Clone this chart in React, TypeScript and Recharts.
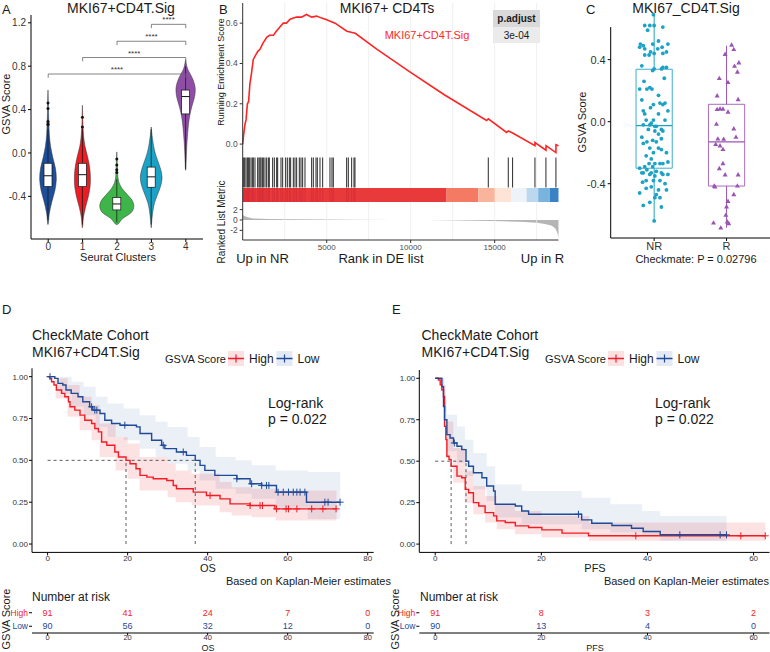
import React from "react";
import {
  ComposedChart,
  LineChart,
  AreaChart,
  ScatterChart,
  Bar,
  Line,
  Area,
  Scatter,
  XAxis,
  YAxis,
  ReferenceLine,
  ReferenceArea,
} from "recharts";

const FONT = '"Liberation Sans", Arial, Helvetica, sans-serif';
const INK = "#1a1a1a";
const TICK = "#333";
const KM_RED = "#f21c25";
const KM_BLUE = "#1f4a98";

// ---------- panel A: violins per Seurat cluster ----------
const clusters = ["0", "1", "2", "3", "4"];
const clusterColors = ["#1c4e9a", "#ec1c24", "#3db549", "#1aa3c6", "#8e4ea6"];
const violinMin = [-0.66, -0.69, -0.66, -0.69, -0.16];
const violinMax = [0.58, 0.44, 0.01, 0.24, 0.86];
// relative width at evenly spaced levels from min to max
const violinWidth = [
  [0, 0.08, 0.22, 0.4, 0.49, 0.44, 0.28, 0.15, 0.08, 0.05, 0.03, 0.015, 0],
  [0, 0.06, 0.18, 0.34, 0.45, 0.47, 0.42, 0.3, 0.15, 0.07, 0.03, 0.015, 0],
  [0, 0.35, 0.85, 1.0, 0.9, 0.6, 0.3, 0.12, 0.06, 0.04, 0.03, 0.015, 0],
  [0, 0.04, 0.1, 0.2, 0.38, 0.56, 0.64, 0.55, 0.38, 0.22, 0.12, 0.05, 0],
  [0, 0.03, 0.05, 0.08, 0.12, 0.17, 0.25, 0.38, 0.53, 0.56, 0.4, 0.12, 0],
];
const boxQ1 = [-0.31, -0.31, -0.525, -0.316, 0.36];
const boxMedian = [-0.21, -0.2, -0.47, -0.22, 0.52];
const boxQ3 = [-0.095, -0.095, -0.41, -0.13, 0.58];
const whiskerLo = [-0.62, -0.66, -0.64, -0.66, -0.15];
const whiskerHi = [0.22, 0.22, -0.24, 0.22, 0.8];
const outliers = [
  [0.46, 0.41, 0.29, 0.27, 0.26],
  [0.33, 0.24],
  [-0.055, -0.11, -0.155, -0.18],
  [],
  [],
];
const bracketFrom = ["0", "1", "2", "3"];
const bracketTo = "4";
const bracketY = [0.728, 0.88, 1.03, 1.186];

// ---------- panel B: GSEA ----------
const esRank = [
  0, 60, 140, 200, 280, 350, 430, 520, 630, 760, 900, 1030, 1200, 1430, 1600, 1830, 2000, 2200,
  2420, 2600, 2820, 3200, 3500, 3800, 4100, 4400, 4700, 5000, 5500, 6200, 6700, 8000, 9950, 12000,
  14520, 14620, 15710, 15810, 16068, 17398, 17400, 18052, 18060, 18645, 18650, 18800,
];
const esScore = [
  0, 0.05, 0.1, 0.12, 0.2, 0.21, 0.3, 0.35, 0.42, 0.44, 0.46, 0.47, 0.5, 0.53, 0.54, 0.54, 0.56, 0.58,
  0.6, 0.6, 0.62, 0.63, 0.63, 0.643, 0.63, 0.635, 0.625, 0.617, 0.6, 0.56, 0.55, 0.47, 0.358, 0.245,
  0.117, 0.125, 0.058, 0.065, 0.055, -0.008, 0.008, -0.03, -0.008, -0.042, -0.003, -0.008,
];
const hitRanks = [
  37, 117, 196, 276, 335, 395, 494, 573, 633, 732, 891, 970, 1030, 1089, 1169, 1228, 1327, 1427,
  1526, 1585, 1784, 1883, 2022, 2081, 2280, 2379, 2557, 2657, 2776, 2855, 3014, 3113, 3212, 3371,
  3470, 3569, 3708, 4105, 4204, 4363, 4442, 4601, 4760, 5196, 5315, 5395, 6188, 6288, 6486, 6625,
  6684, 14620, 15810, 16068, 17398, 18052, 18647,
];
const rankBarStops = [0, 12140, 14020, 15010, 16000, 16900, 17590, 18290, 18800];
const rankBarColors = ["#e8393b", "#f47a63", "#f9b59b", "#fde4d6", "#eef2f9", "#bcd8ee", "#79b4df", "#3a82c4"];
const metricRank = [0, 50, 200, 600, 1500, 3000, 5000, 6500, 9000, 11000, 13000, 14000, 15500, 16500, 17500, 18000, 18400, 18600, 18700, 18780, 18800];
const metricValue = [1.0, 0.85, 0.6, 0.3, 0.2, 0.12, 0.07, 0.04, 0.01, -0.01, -0.08, -0.15, -0.25, -0.35, -0.55, -0.75, -1.1, -1.6, -2.2, -3.0, -3.4];
const rankGrid = [2500, 5000, 7500, 10000, 12500, 15000, 17500];

// ---------- panel C: NR vs R ----------
const responseGroups = ["NR", "R"];
const nrJitter = [
  -0.01, -0.13, -0.06, 0.0, 0.12, -0.09, 0.06, -0.19, -0.15, -0.02, 0.11, 0.19, -0.13, 0.05, -0.05, -0.2,
  0.0, -0.13, -0.07, 0.12, 0.17, -0.17, -0.02, 0.1, 0.12, 0.0, 0.17, -0.14, -0.06, -0.1, -0.03, -0.2,
  0.14, 0.06, 0.12, 0.15, 0.08, -0.17, -0.01, -0.15, -0.05, 0.19, -0.13, 0.06, -0.01, -0.11, 0.15, -0.15,
  -0.06, 0.01, 0.03, -0.04, 0.1, -0.08, 0.01, 0.12, 0.06, -0.17, -0.1, -0.02, 0.03, 0.1, -0.15, -0.06,
  0.06, 0.1, 0.17, -0.01, -0.11, -0.04, -0.07, 0.01, 0.08, 0.12, 0.19, -0.02, -0.2, -0.13, -0.1, -0.04,
  0.03, 0.1, -0.15, -0.06, 0.01, 0.12, -0.17, 0.19, -0.01, 0.08, -0.11, 0.15, -0.16, -0.04, 0.06, 0.03,
  -0.11, 0.17, -0.2, 0.01, 0.08, -0.06, 0.1, -0.15, 0.0,
];
const nrScore = [
  0.69, 0.62, 0.62, 0.62, 0.61, 0.59, 0.52, 0.5, 0.49, 0.5, 0.48, 0.5, 0.47, 0.47, 0.45, 0.48,
  0.44, 0.43, 0.43, 0.44, 0.45, 0.36, 0.33, 0.34, 0.35, 0.34, 0.35, 0.26, 0.22, 0.21, 0.21, 0.21,
  0.28, 0.17, 0.11, 0.12, 0.12, 0.14, 0.11, 0.07, 0.09, 0.07, 0.05, 0.05, 0.01, 0.01, 0.01, -0.02,
  -0.02, -0.03, -0.03, -0.01, -0.05, -0.05, -0.06, -0.06, -0.08, -0.1, -0.13, -0.12, -0.13, -0.11, -0.14, -0.17,
  -0.17, -0.18, -0.2, -0.2, -0.22, -0.24, -0.27, -0.27, -0.27, -0.27, -0.26, -0.29, -0.3, -0.29, -0.31, -0.33,
  -0.32, -0.33, -0.33, -0.34, -0.35, -0.34, -0.33, -0.34, -0.38, -0.38, -0.38, -0.4, -0.39, -0.42, -0.44, -0.47,
  -0.43, -0.44, -0.46, -0.49, -0.49, -0.52, -0.55, -0.54, -0.64,
];
const rJitter = [
  0.07, 0.1, -0.02, 0.17, 0.11, 0.15, -0.1, 0.02, -0.13, 0.16, -0.13, -0.09, -0.05, 0.02, -0.14, 0.1,
  -0.12, 0.13, -0.04, -0.15, -0.09, -0.05, -0.05, -0.1, -0.02, 0.16, -0.17, -0.16, 0.15, 0.1, 0.02, 0.0,
  -0.01, 0.01, 0.03, -0.18, -0.08,
];
const rScore = [
  0.495, 0.467, 0.435, 0.381, 0.359, 0.321, 0.28, 0.254, 0.168, 0.144, 0.08, 0.084, 0.082, 0.063, -0.015, -0.045,
  -0.11, -0.099, -0.112, -0.146, -0.155, -0.178, -0.269, -0.301, -0.342, -0.342, -0.413, -0.42, -0.413, -0.469, -0.512, -0.548,
  -0.602, -0.645, -0.656, -0.652, -0.684,
];
const cQ1 = [-0.3, -0.415];
const cMedian = [-0.026, -0.13];
const cQ3 = [0.338, 0.112];
const cWhiskerLo = [-0.645, -0.684];
const cWhiskerHi = [0.695, 0.49];
const responseColors = ["#1ba2c6", "#9a55b2"];

// ---------- panels D / E: Kaplan-Meier ----------
const osHighTime = [0, 0.6, 1.0, 1.6, 2.2, 3.5, 4.3, 5.2, 5.6, 6.8, 8.1, 9.3, 11.0, 11.8, 12.7, 13.5, 14.8, 16.8, 17.7, 19.6, 20.6, 22.1, 23.1, 24.8, 26.4, 29.8, 31.4, 32.2, 36.4, 39.7, 43.1, 45.6, 50.6, 56.8, 72.2];
const osHighSurv = [1.0, 0.99, 0.97, 0.95, 0.92, 0.9, 0.88, 0.85, 0.82, 0.8, 0.77, 0.74, 0.72, 0.69, 0.67, 0.61, 0.59, 0.55, 0.52, 0.5, 0.48, 0.45, 0.41, 0.4, 0.39, 0.38, 0.35, 0.33, 0.31, 0.29, 0.27, 0.24, 0.23, 0.21, 0.21];
const osHighCensor = [40.6, 50.6, 53.1, 53.7, 57.2, 59.6, 60.2, 62.3, 66.0, 68.8, 72.1];
const osHighBandTime = [0, 2, 5, 8, 11, 13, 17, 20, 23, 30, 32, 36, 43, 46, 51, 57, 72.2];
const osHighBandLo = [1, 0.87, 0.76, 0.68, 0.62, 0.52, 0.44, 0.39, 0.32, 0.28, 0.25, 0.23, 0.19, 0.17, 0.16, 0.14, 0.14];
const osHighBandHi = [1, 0.99, 0.95, 0.88, 0.83, 0.72, 0.64, 0.6, 0.52, 0.48, 0.44, 0.42, 0.37, 0.34, 0.33, 0.32, 0.32];

const osLowTime = [0, 1.8, 2.6, 3.8, 4.6, 5.9, 7.6, 8.8, 10.5, 11.3, 13.1, 14.3, 16.0, 18.1, 22.2, 23.1, 26.0, 28.5, 29.3, 32.2, 34.7, 36.9, 38.1, 39.3, 41.8, 47.3, 50.6, 53.5, 57.2, 64.7, 73.1];
const osLowSurv = [1.0, 0.99, 0.96, 0.95, 0.92, 0.9, 0.88, 0.85, 0.82, 0.8, 0.78, 0.74, 0.72, 0.71, 0.7, 0.66, 0.62, 0.59, 0.57, 0.55, 0.53, 0.5, 0.47, 0.44, 0.41, 0.39, 0.36, 0.35, 0.31, 0.25, 0.25];
const osLowCensor = [0.6, 11.0, 11.8, 12.3, 19.3, 28.9, 33.9, 47.3, 51.0, 53.5, 54.7, 55.3, 57.6, 58.9, 60.2, 61.4, 62.3, 63.1, 64.3, 69.3, 70.1, 73.1];
const osLowBandTime = [0, 3, 6, 9, 12, 15, 19, 23, 27, 30, 35, 38, 42, 47, 51, 57, 65, 73.1];
const osLowBandLo = [1, 0.9, 0.82, 0.77, 0.7, 0.64, 0.62, 0.57, 0.52, 0.48, 0.44, 0.38, 0.33, 0.3, 0.27, 0.22, 0.15, 0.15];
const osLowBandHi = [1, 1.0, 0.97, 0.94, 0.88, 0.84, 0.81, 0.77, 0.73, 0.7, 0.64, 0.58, 0.52, 0.5, 0.47, 0.44, 0.43, 0.43];
const osMedians = [19.6, 36.9];

const pfsHighTime = [0, 0.6, 0.94, 1.25, 1.56, 1.76, 2.0, 2.2, 2.6, 3.0, 4.1, 5.0, 5.65, 6.3, 7.2, 8.2, 9.4, 11.0, 11.6, 13.2, 15.1, 17.6, 20.1, 23.9, 28.9, 62.2];
const pfsHighSurv = [1.0, 0.99, 0.96, 0.93, 0.89, 0.71, 0.63, 0.53, 0.51, 0.47, 0.41, 0.4, 0.33, 0.31, 0.25, 0.23, 0.19, 0.17, 0.14, 0.13, 0.11, 0.1, 0.086, 0.066, 0.05, 0.05];
const pfsHighCensor = [37.8, 57.6, 62.2];
const pfsHighBandTime = [0, 1, 1.6, 2.0, 3.4, 5.6, 7.2, 9.4, 11.6, 15, 20, 29, 62.2];
const pfsHighBandLo = [1, 0.92, 0.8, 0.52, 0.37, 0.25, 0.18, 0.13, 0.09, 0.06, 0.04, 0.02, 0.02];
const pfsHighBandHi = [1, 1.0, 0.96, 0.74, 0.58, 0.44, 0.35, 0.29, 0.24, 0.2, 0.17, 0.13, 0.13];

const pfsLowTime = [0, 1.25, 1.56, 1.76, 2.2, 2.8, 3.45, 4.1, 5.0, 5.8, 6.3, 7.2, 8.8, 9.7, 11.0, 11.3, 15.1, 16.3, 17.6, 27.6, 29.5, 33.3, 37.0, 39.2, 42.4, 54.9];
const pfsLowSurv = [1.0, 0.95, 0.83, 0.75, 0.66, 0.64, 0.61, 0.59, 0.57, 0.5, 0.47, 0.43, 0.4, 0.35, 0.32, 0.24, 0.23, 0.2, 0.18, 0.146, 0.126, 0.112, 0.096, 0.076, 0.056, 0.056];
const pfsLowCensor = [3.6, 27.0, 46.1, 53.7, 54.9];
const pfsLowBandTime = [0, 1.3, 1.8, 2.2, 4.1, 5.6, 7.2, 9.7, 11.3, 16.3, 27.6, 33, 39, 42.4, 54.9];
const pfsLowBandLo = [1, 0.88, 0.65, 0.56, 0.49, 0.41, 0.33, 0.26, 0.16, 0.12, 0.09, 0.07, 0.05, 0.02, 0.02];
const pfsLowBandHi = [1, 1.0, 0.87, 0.78, 0.71, 0.63, 0.55, 0.47, 0.36, 0.32, 0.28, 0.24, 0.2, 0.17, 0.17];
const pfsMedians = [3.0, 5.8];

const osRiskTimes = [0, 20, 40, 60, 80];
const osRiskHigh = [91, 41, 24, 7, 0];
const osRiskLow = [90, 56, 32, 12, 0];
const pfsRiskTimes = [0, 20, 40, 60];
const pfsRiskHigh = [91, 8, 3, 2];
const pfsRiskLow = [90, 13, 4, 0];

const at = (left: number, top: number): React.CSSProperties => ({ position: "absolute", left, top });

function smoothPath(pts: number[][]) {
  let d = `M${pts[0][0]},${pts[0][1]}`;
  for (let i = 0; i < pts.length - 1; i++) {
    const p0 = pts[i - 1] || pts[i];
    const p1 = pts[i];
    const p2 = pts[i + 1];
    const p3 = pts[i + 2] || p2;
    const c1x = p1[0] + (p2[0] - p0[0]) / 6;
    const c1y = p1[1] + (p2[1] - p0[1]) / 6;
    const c2x = p2[0] - (p3[0] - p1[0]) / 6;
    const c2y = p2[1] - (p3[1] - p1[1]) / 6;
    d += ` C${c1x},${c1y} ${c2x},${c2y} ${p2[0]},${p2[1]}`;
  }
  return d + " Z";
}

// violin + box + whiskers + outliers, mapped from the bar's [min, max] pixel span
const ViolinShape = (props: any) => {
  const { x, y, width, height, payload } = props;
  const i = payload.i;
  const lo = violinMin[i];
  const hi = violinMax[i];
  const toY = (v: number) => y + ((hi - v) / (hi - lo)) * height;
  const cx = x + width / 2;
  const dens = violinWidth[i];
  const n = dens.length;
  const pts: number[][] = [];
  for (let k = n - 1; k >= 0; k--) pts.push([cx + (dens[k] * width) / 2, toY(lo + (k / (n - 1)) * (hi - lo))]);
  for (let k = 1; k < n; k++) pts.push([cx - (dens[k] * width) / 2, toY(lo + (k / (n - 1)) * (hi - lo))]);
  const bw = 4;
  return (
    <g>
      <path d={smoothPath(pts)} fill={clusterColors[i]} stroke="#333" strokeWidth={0.5} />
      <line x1={cx} x2={cx} y1={toY(whiskerHi[i])} y2={toY(whiskerLo[i])} stroke="#111" strokeWidth={0.7} />
      <rect x={cx - bw} width={bw * 2} y={toY(boxQ3[i])} height={toY(boxQ1[i]) - toY(boxQ3[i])} fill="#fff" stroke="#111" strokeWidth={0.7} />
      <line x1={cx - bw} x2={cx + bw} y1={toY(boxMedian[i])} y2={toY(boxMedian[i])} stroke="#111" strokeWidth={1} />
      {outliers[i].map((v, k) => (
        <circle key={k} cx={cx} cy={toY(v)} r={1.5} fill="#111" />
      ))}
    </g>
  );
};

function PanelA() {
  const data = clusters.map((c, i) => ({ cluster: c, i, range: [violinMin[i], violinMax[i]] }));
  const tip = 0.035;
  return (
    <div style={at(0, 0)}>
      <ComposedChart width={210} height={265} data={data} margin={{ top: 15, right: 7, bottom: 0, left: 0 }} barCategoryGap={0}>
        <XAxis dataKey="cluster" height={26} tickSize={3} tickMargin={1} stroke="#000" tick={{ fontSize: 10, fill: TICK }} />
        <YAxis type="number" domain={[-0.793, 1.272]} ticks={[-0.4, 0, 0.4, 0.8, 1.2]} interval={0} width={31} tickSize={3} tickMargin={2} stroke="#000" tick={{ fontSize: 10, fill: TICK }} tickFormatter={(v: number) => v.toFixed(1)} />
        <Bar dataKey="range" shape={ViolinShape} isAnimationActive={false} />
        {bracketFrom.map((from, k) => (
          <React.Fragment key={k}>
            <ReferenceLine segment={[{ x: from, y: bracketY[k] }, { x: bracketTo, y: bracketY[k] }]} stroke="#666" strokeWidth={0.8} label={{ value: "****", position: "top", fontSize: 8, fill: "#333", offset: 2 }} />
            <ReferenceLine segment={[{ x: from, y: bracketY[k] }, { x: from, y: bracketY[k] - tip }]} stroke="#666" strokeWidth={0.8} />
            <ReferenceLine segment={[{ x: bracketTo, y: bracketY[k] }, { x: bracketTo, y: bracketY[k] - tip }]} stroke="#666" strokeWidth={0.8} />
          </React.Fragment>
        ))}
      </ComposedChart>
    </div>
  );
}

const HitTick = (p: any) => <line x1={p.cx} x2={p.cx} y1={p.cy - 15} y2={p.cy + 15} stroke="#111" strokeWidth={0.9} />;
const Nothing = () => <g />;

function PanelB() {
  const es = esRank.map((r, i) => ({ rank: r, es: esScore[i] }));
  const metric = metricRank.map((r, i) => ({ rank: r, m: metricValue[i] }));
  const hits = hitRanks.map((r) => ({ rank: r, y: 0.5 }));
  const W = 360;
  const yw = 42.7;
  const mr = 1.5;
  const grid = (key: string) =>
    rankGrid.map((g) => <ReferenceLine key={key + g} x={g} stroke="#ececec" strokeWidth={0.8} />);
  return (
    <>
      <div style={at(200, 0)}>
        <LineChart width={W} height={157} data={es} margin={{ top: 3, right: mr, bottom: 0, left: 0 }}>
          <XAxis type="number" dataKey="rank" domain={[0, 18800]} hide />
          <YAxis type="number" domain={[-0.064, 0.7]} ticks={[0, 0.2, 0.4, 0.6]} interval={0} width={yw} tickSize={3} tickMargin={2} stroke="#333" tick={{ fontSize: 8.5, fill: "#4d4d4d" }} tickFormatter={(v: number) => v.toFixed(1)} />
          {grid("es")}
          <Line dataKey="es" type="linear" stroke="#ff2424" strokeWidth={1.6} dot={false} isAnimationActive={false} />
        </LineChart>
      </div>
      <div style={at(200, 157)}>
        <ComposedChart width={W} height={31} margin={{ top: 0, right: mr, bottom: 0, left: 0 }}>
          <XAxis type="number" dataKey="rank" domain={[0, 18800]} hide />
          <YAxis type="number" domain={[0, 1]} width={yw} tick={false} tickLine={false} stroke="#333" />
          {grid("hit")}
          <Scatter data={hits} dataKey="y" shape={HitTick} isAnimationActive={false} />
        </ComposedChart>
      </div>
      <div style={at(200, 188)}>
        <ComposedChart width={W} height={14} margin={{ top: 0, right: mr, bottom: 0, left: 0 }}>
          <XAxis type="number" dataKey="rank" domain={[0, 18800]} hide />
          <YAxis type="number" domain={[0, 1]} width={yw} tick={false} tickLine={false} stroke="#333" />
          {rankBarColors.map((c, k) => (
            <ReferenceArea key={k} x1={rankBarStops[k]} x2={rankBarStops[k + 1]} y1={0} y2={1} fill={c} fillOpacity={1} stroke="none" />
          ))}
          {hitRanks
            .filter((r) => r < rankBarStops[1])
            .map((r) => (
              <ReferenceLine key={r} x={r} stroke="#b2182b" strokeOpacity={0.3} strokeWidth={0.9} />
            ))}
          <Scatter data={hits} dataKey="y" shape={Nothing} isAnimationActive={false} />
        </ComposedChart>
      </div>
      <div style={at(200, 202)}>
        <AreaChart width={W} height={56} data={metric} margin={{ top: 0, right: mr, bottom: 0, left: 0 }}>
          <XAxis type="number" dataKey="rank" domain={[0, 18800]} ticks={[5000, 10000, 15000]} height={18} tickSize={3} tickMargin={1} stroke="#333" tick={{ fontSize: 8, fill: "#4d4d4d" }} />
          <YAxis type="number" domain={[-3.85, 3.46]} ticks={[-2, 0, 2]} interval={0} width={yw} tickSize={3} tickMargin={2} stroke="#333" tick={{ fontSize: 8.5, fill: "#4d4d4d" }} />
          {grid("m")}
          <Area dataKey="m" type="linear" stroke="none" fill="#b5b5b5" fillOpacity={1} isAnimationActive={false} />
        </AreaChart>
      </div>
    </>
  );
}

const NrDot = (p: any) => <circle cx={p.cx} cy={p.cy} r={1.9} fill={responseColors[0]} />;
const RTri = (p: any) => (
  <path d={`M${p.cx},${p.cy - 2.6} L${p.cx + 2.5},${p.cy + 1.8} L${p.cx - 2.5},${p.cy + 1.8} Z`} fill={responseColors[1]} />
);

function PanelC() {
  const nr = nrScore.map((v, i) => ({ x: 1 + nrJitter[i], y: v }));
  const r = rScore.map((v, i) => ({ x: 2 + rJitter[i], y: v }));
  const half = 0.25;
  return (
    <div style={at(570, 0)}>
      <ComposedChart width={200} height={258} margin={{ top: 10, right: 0, bottom: 0, left: 0 }}>
        <XAxis type="number" dataKey="x" domain={[0.4, 2.6]} ticks={[1, 2]} tickFormatter={(v: number) => responseGroups[v - 1]} height={20} tickSize={3} tickMargin={1} stroke="#000" tick={{ fontSize: 11, fill: TICK }} />
        <YAxis type="number" domain={[-0.75, 0.72]} ticks={[-0.4, 0, 0.4]} interval={0} width={40.7} axisLine={false} tickSize={3} tickMargin={2} stroke="#000" tick={{ fontSize: 11, fill: TICK }} tickFormatter={(v: number) => v.toFixed(1)} />
        <ReferenceLine segment={[{ x: 0.4, y: -0.75 }, { x: 0.4, y: 0.61 }]} stroke="#000" strokeWidth={1} />
        {responseGroups.map((g, k) => (
          <React.Fragment key={g}>
            <ReferenceLine segment={[{ x: k + 1, y: cQ3[k] }, { x: k + 1, y: cWhiskerHi[k] }]} stroke={responseColors[k]} strokeWidth={1} />
            <ReferenceLine segment={[{ x: k + 1, y: cQ1[k] }, { x: k + 1, y: cWhiskerLo[k] }]} stroke={responseColors[k]} strokeWidth={1} />
            <ReferenceArea x1={k + 1 - half} x2={k + 1 + half} y1={cQ1[k]} y2={cQ3[k]} fill="#fff" fillOpacity={0} stroke={responseColors[k]} strokeOpacity={0.85} strokeWidth={1} />
            <ReferenceLine segment={[{ x: k + 1 - half, y: cMedian[k] }, { x: k + 1 + half, y: cMedian[k] }]} stroke={responseColors[k]} strokeWidth={1.3} />
          </React.Fragment>
        ))}
        <Scatter data={nr} dataKey="y" shape={NrDot} isAnimationActive={false} />
        <Scatter data={r} dataKey="y" shape={RTri} isAnimationActive={false} />
      </ComposedChart>
    </div>
  );
}

const plusShape = (color: string) => (p: any) => (
  <g stroke={color} strokeWidth={1}>
    <line x1={p.cx - 3.5} x2={p.cx + 3.5} y1={p.cy} y2={p.cy} />
    <line x1={p.cx} x2={p.cx} y1={p.cy - 3.5} y2={p.cy + 3.5} />
  </g>
);

function stepAt(times: number[], surv: number[], t: number) {
  let s = surv[0];
  for (let i = 0; i < times.length; i++) if (times[i] <= t) s = surv[i];
  return s;
}

type Arm = { time: number[]; surv: number[]; censor: number[]; bandTime: number[]; bandLo: number[]; bandHi: number[] };

function KmPanel(props: { left: number; yw: number; top: number; right: number; xDomain: number[]; xTicks: number[]; high: Arm; low: Arm; medians: number[] }) {
  const { left, yw, top, right, xDomain, xTicks, high, low, medians } = props;
  const arms = [
    { arm: high, color: KM_RED, bandOpacity: 0.13 },
    { arm: low, color: KM_BLUE, bandOpacity: 0.09 },
  ];
  const mMax = Math.max(...medians);
  // plot bottom sits at page y 552.4
  const axisH = 360 + 215 - 552.4;
  return (
    <div style={at(left, 360)}>
      <ComposedChart width={380} height={215} margin={{ top, right, bottom: 0, left: 0 }}>
        <XAxis type="number" dataKey="t" domain={xDomain} ticks={xTicks} interval={0} height={axisH} tickSize={3} tickMargin={0} stroke="#000" tick={{ fontSize: 8, fill: TICK }} allowDataOverflow />
        <YAxis type="number" domain={[-0.05, 1.05]} ticks={[0, 0.25, 0.5, 0.75, 1]} interval={0} width={yw} tickSize={3} tickMargin={1} stroke="#000" tick={{ fontSize: 8, fill: TICK }} tickFormatter={(v: number) => v.toFixed(2)} />
        {arms.map(({ arm, color, bandOpacity }, k) => (
          <Area key={"b" + k} data={arm.bandTime.map((t, i) => ({ t, band: [arm.bandLo[i], arm.bandHi[i]] }))} dataKey="band" type="stepAfter" stroke="none" fill={color} fillOpacity={bandOpacity} isAnimationActive={false} />
        ))}
        <ReferenceLine segment={[{ x: 0, y: 0.5 }, { x: mMax, y: 0.5 }]} stroke="#333" strokeDasharray="3 3" strokeWidth={0.8} />
        {medians.map((m) => (
          <ReferenceLine key={m} segment={[{ x: m, y: 0 }, { x: m, y: 0.5 }]} stroke="#333" strokeDasharray="3 3" strokeWidth={0.8} />
        ))}
        {arms.map(({ arm, color }, k) => (
          <Line key={"l" + k} data={arm.time.map((t, i) => ({ t, s: arm.surv[i] }))} dataKey="s" type="stepAfter" stroke={color} strokeWidth={1.4} dot={false} isAnimationActive={false} />
        ))}
        {arms.map(({ arm, color }, k) => (
          <Scatter key={"c" + k} data={arm.censor.map((t) => ({ t, s: stepAt(arm.time, arm.surv, t) }))} dataKey="s" shape={plusShape(color)} isAnimationActive={false} />
        ))}
      </ComposedChart>
    </div>
  );
}

const RiskTick = (p: any) => (
  <text x={p.x} y={p.y} textAnchor="end" dominantBaseline="central" fontSize={8.5} fill={p.payload.value === "High" ? KM_RED : KM_BLUE}>
    {p.payload.value}
  </text>
);
const RiskCell = (p: any) => (
  <text x={p.cx} y={p.cy} textAnchor="middle" dominantBaseline="central" fontSize={9} fill={p.payload.group === "High" ? KM_RED : KM_BLUE}>
    {p.payload.n}
  </text>
);

function RiskTable(props: { left: number; yw: number; right: number; xDomain: number[]; xTicks: number[]; times: number[]; high: number[]; low: number[] }) {
  const { left, yw, right, xDomain, xTicks, times, high, low } = props;
  const rows = [
    ...times.map((t, i) => ({ t, group: "High", n: high[i] })),
    ...times.map((t, i) => ({ t, group: "Low", n: low[i] })),
  ];
  return (
    <div style={at(left, 600)}>
      <ScatterChart width={380} height={52} margin={{ top: 6, right, bottom: 0, left: 0 }}>
        <XAxis type="number" dataKey="t" domain={xDomain} ticks={xTicks} interval={0} height={19} tickSize={2.5} tickMargin={-1} stroke="#000" tick={{ fontSize: 7.5, fill: TICK }} />
        <YAxis type="category" dataKey="group" allowDuplicatedCategory={false} reversed interval={0} width={yw} axisLine={false} tickSize={3} tickMargin={1} stroke="#000" tick={RiskTick} />
        <Scatter data={rows} shape={RiskCell} isAnimationActive={false} />
      </ScatterChart>
    </div>
  );
}

function T(p: { x: number; y: number; size: number; anchor?: string; rotate?: boolean; bold?: boolean; fill?: string; children: React.ReactNode }) {
  return (
    <text
      x={p.x}
      y={p.y}
      fontSize={p.size}
      textAnchor={(p.anchor || "start") as any}
      dominantBaseline="central"
      fontWeight={p.bold ? "bold" : "normal"}
      fill={p.fill || INK}
      transform={p.rotate ? `rotate(-90 ${p.x} ${p.y})` : undefined}
    >
      {p.children}
    </text>
  );
}

function KmLegend({ x0, y }: { x0: number; y: number }) {
  const keys = [
    { label: "High", color: KM_RED, bg: "#fde1e2", x: x0 + 63 },
    { label: "Low", color: KM_BLUE, bg: "#e4e9f3", x: x0 + 111.5 },
  ];
  return (
    <g>
      <T x={x0} y={y} size={11}>GSVA Score</T>
      {keys.map((k) => (
        <g key={k.label}>
          <rect x={k.x} y={y - 7.5} width={16} height={15} fill={k.bg} />
          <line x1={k.x} x2={k.x + 16} y1={y} y2={y} stroke={k.color} strokeWidth={1.5} />
          <line x1={k.x + 8} x2={k.x + 8} y1={y - 4} y2={y + 4} stroke={k.color} strokeWidth={1.2} />
          <T x={k.x + 21} y={y} size={12}>{k.label}</T>
        </g>
      ))}
    </g>
  );
}

function Overlay() {
  return (
    <svg width={770} height={652} style={{ position: "absolute", left: 0, top: 0, pointerEvents: "none", fontFamily: FONT }}>
      {/* A */}
      <T x={2} y={9} size={13}>A</T>
      <T x={121} y={7.5} size={14} anchor="middle">MKI67+CD4T.Sig</T>
      <T x={6} y={104} size={11} anchor="middle" rotate>GSVA Score</T>
      <T x={118} y={257} size={11} anchor="middle">Seurat Clusters</T>
      {/* B */}
      <T x={219} y={9} size={13}>B</T>
      <T x={387} y={7.5} size={14} anchor="middle">MKI67+ CD4Ts</T>
      <T x={221} y={72} size={9} anchor="middle" rotate>Running Enrichment Score</T>
      <T x={221} y={222} size={10} anchor="middle" rotate>Ranked List Metric</T>
      <rect x={493} y={10} width={47} height={17} fill="#d9d9d9" />
      <rect x={493} y={27} width={47} height={16} fill="#ebebeb" />
      <T x={516.5} y={18.5} size={10} anchor="middle" bold>p.adjust</T>
      <T x={516.5} y={35} size={10} anchor="middle">3e-04</T>
      <T x={427} y={35} size={11} anchor="middle" fill="#ff2a2a">MKI67+CD4T.Sig</T>
      <T x={262.5} y={258} size={13} anchor="middle">Up in NR</T>
      <T x={381} y={258} size={13} anchor="middle">Rank in DE list</T>
      <T x={542.5} y={258} size={13} anchor="middle">Up in R</T>
      {/* C */}
      <T x={586} y={9} size={13}>C</T>
      <T x={686} y={7.5} size={14} anchor="middle">MKI67_CD4T.Sig</T>
      <T x={582} y={122} size={11} anchor="middle" rotate>GSVA Score</T>
      <T x={696} y={259} size={11} anchor="middle">Checkmate: P = 0.02796</T>
      {/* D */}
      <T x={2} y={309} size={13}>D</T>
      <T x={32} y={335} size={14}>CheckMate Cohort</T>
      <T x={32} y={352} size={14}>MKI67+CD4T.Sig</T>
      <KmLegend x0={165} y={358.5} />
      <T x={268} y={403} size={14}>Log-rank</T>
      <T x={268} y={418.5} size={14}>p = 0.022</T>
      <T x={208} y={568} size={11} anchor="middle">OS</T>
      <T x={391} y={581} size={11} anchor="end">Based on Kaplan-Meier estimates</T>
      <T x={32} y={597} size={12}>Number at risk</T>
      <T x={6} y={619} size={11} anchor="middle" rotate>GSVA Score</T>
      <T x={208} y={647.5} size={9} anchor="middle">OS</T>
      {/* E */}
      <T x={392} y={309} size={13}>E</T>
      <T x={421.5} y={335} size={14}>CheckMate Cohort</T>
      <T x={421.5} y={352} size={14}>MKI67+CD4T.Sig</T>
      <KmLegend x0={545} y={358.5} />
      <T x={655} y={403} size={14}>Log-rank</T>
      <T x={655} y={418.5} size={14}>p = 0.022</T>
      <T x={595} y={568} size={11} anchor="middle">PFS</T>
      <T x={769} y={581} size={11} anchor="end">Based on Kaplan-Meier estimates</T>
      <T x={420} y={597} size={12}>Number at risk</T>
      <T x={395} y={619} size={11} anchor="middle" rotate>GSVA Score</T>
      <T x={595} y={647.5} size={9} anchor="middle">PFS</T>
    </svg>
  );
}

export default function App() {
  const osHigh: Arm = { time: osHighTime, surv: osHighSurv, censor: osHighCensor, bandTime: osHighBandTime, bandLo: osHighBandLo, bandHi: osHighBandHi };
  const osLow: Arm = { time: osLowTime, surv: osLowSurv, censor: osLowCensor, bandTime: osLowBandTime, bandLo: osLowBandLo, bandHi: osLowBandHi };
  const pfsHigh: Arm = { time: pfsHighTime, surv: pfsHighSurv, censor: pfsHighCensor, bandTime: pfsHighBandTime, bandLo: pfsHighBandLo, bandHi: pfsHighBandHi };
  const pfsLow: Arm = { time: pfsLowTime, surv: pfsLowSurv, censor: pfsLowCensor, bandTime: pfsLowBandTime, bandLo: pfsLowBandLo, bandHi: pfsLowBandHi };
  return (
    <div style={{ position: "absolute", left: 0, top: 0, width: 770, height: 652, background: "#fff", fontFamily: FONT, overflow: "hidden" }}>
      <PanelA />
      <PanelB />
      <PanelC />
      <KmPanel left={0} yw={32} top={8.3} right={6.3} xDomain={[-3.9, 81.5]} xTicks={[0, 20, 40, 60, 80]} high={osHigh} low={osLow} medians={osMedians} />
      <KmPanel left={390} yw={29.3} top={10} right={0.5} xDomain={[-3, 63]} xTicks={[0, 20, 40, 60]} high={pfsHigh} low={pfsLow} medians={pfsMedians} />
      <RiskTable left={0} yw={32} right={6.3} xDomain={[-3.9, 81.5]} xTicks={[0, 20, 40, 60, 80]} times={osRiskTimes} high={osRiskHigh} low={osRiskLow} />
      <RiskTable left={390} yw={29.3} right={0.5} xDomain={[-3, 63]} xTicks={[0, 20, 40, 60]} times={pfsRiskTimes} high={pfsRiskHigh} low={pfsRiskLow} />
      <Overlay />
    </div>
  );
}
